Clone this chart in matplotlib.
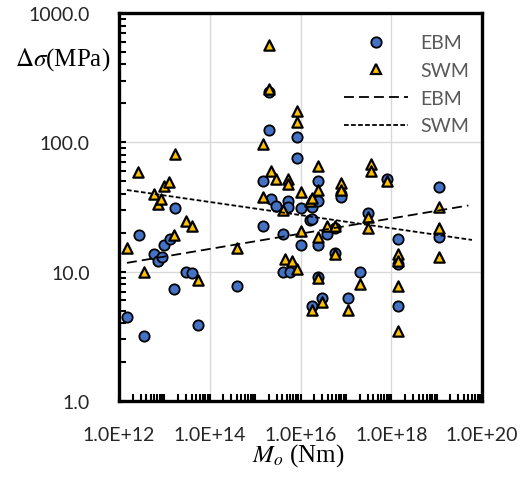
import numpy as np
import matplotlib
matplotlib.use("Agg")
import matplotlib.pyplot as plt
from matplotlib.ticker import FixedLocator, LogLocator, FuncFormatter, NullFormatter
from matplotlib.lines import Line2D

plt.rcParams['font.family'] = ['Lato', 'DejaVu Sans']
plt.rcParams['mathtext.fontset'] = 'stix'

# EBM data (Mo in Nm, stress drop in MPa)
ebm_mo = [1.5e12, 3.6e12, 2.8e12, 5.9e12, 7.2e12, 8.9e12, 9.8e12, 1.33e13, 1.63e13, 1.7e13,
          3.0e13, 4.1e13, 5.5e13, 4.0e14, 1.5e15, 1.5e15, 2.0e15, 2.0e15, 2.2e15, 2.9e15,
          4.2e15, 4.2e15, 5.9e15, 5.4e15, 5.4e15, 8.4e15, 8.4e15, 1.0e16, 1.0e16, 1.6e16,
          1.8e16, 1.8e16, 2.4e16, 2.4e16, 2.4e16, 2.4e16, 1.8e16, 3.0e16, 3.8e16, 5.9e16,
          5.9e16, 7.8e16, 7.8e16, 1.1e17, 2.0e17, 3.0e17, 8.1e17, 1.4e18, 1.4e18, 1.4e18,
          1.1e19, 1.1e19]
ebm_ds = [4.5, 3.2, 19.2, 13.6, 12.0, 13.0, 16.2, 18.0, 7.3, 30.8,
          9.9, 9.8, 3.9, 7.8, 50, 22.7, 245, 125, 36.5, 32,
          19.7, 9.9, 10.0, 35, 31.9, 110, 75, 16.2, 30.8, 25.3,
          25.7, 31.9, 35, 50, 16.2, 9.1, 5.4, 6.3, 19.7, 21.6,
          13.9, 40, 38, 6.3, 9.9, 28.4, 52, 18.0, 11.5, 5.4,
          45, 18.7]

# SWM data
swm_mo = [1.5e12, 2.6e12, 3.6e12, 5.9e12, 7.2e12, 8.4e12, 9.8e12, 1.26e13, 1.63e13, 1.7e13,
          3.0e13, 4.1e13, 5.5e13, 4.0e14, 1.5e15, 1.5e15, 2.0e15, 2.0e15, 2.2e15, 2.9e15,
          4.2e15, 4.5e15, 6.5e15, 8.4e15, 5.4e15, 5.4e15, 8.4e15, 8.4e15, 1.0e16, 1.0e16,
          1.6e16, 1.8e16, 2.4e16, 2.4e16, 2.4e16, 2.4e16, 1.8e16, 3.0e16, 3.8e16, 5.9e16,
          5.9e16, 7.8e16, 7.8e16, 1.1e17, 2.0e17, 3.0e17, 3.0e17, 3.6e17, 3.6e17, 8.1e17,
          1.4e18, 1.4e18, 1.4e18, 1.4e18, 1.1e19, 1.1e19, 1.1e19]
swm_ds = [15.2, 59, 9.9, 40, 33.4, 36.5, 46, 49, 19.2, 81,
          24.6, 22.7, 8.6, 15.2, 97, 38, 566, 258, 60, 52,
          30, 12.5, 12.0, 10.5, 52, 47.6, 175, 144, 20.6, 41,
          35, 37, 43, 66, 18.7, 8.9, 5.1, 5.8, 22.7, 22.7,
          13.6, 48.5, 43, 5.1, 8.0, 26.5, 21.6, 68, 60, 50,
          13.6, 12.0, 7.8, 3.5, 31.9, 21.6, 13.0]

# trend lines (power law)
ebm_fit_mo = [1.5e12, 5e19]
ebm_fit_ds = [11.7, 32.5]
swm_fit_mo = [1.5e12, 6e19]
swm_fit_ds = [42.8, 17.6]

fig = plt.figure(figsize=(5.3, 4.81), dpi=100)
ax = fig.add_axes([0.2245, 0.1642, 0.685, 0.8067])

ax.scatter(ebm_mo, ebm_ds, s=55, marker='o', facecolor='#4472C4', edgecolor='black', linewidth=1.3, zorder=3)
ax.scatter(swm_mo, swm_ds, s=55, marker='^', facecolor='#FFC000', edgecolor='black', linewidth=1.6, zorder=4)
ax.plot(ebm_fit_mo, ebm_fit_ds, color='black', lw=1.3, dashes=(5.5, 2.8), zorder=5)
ax.plot(swm_fit_mo, swm_fit_ds, color='black', lw=1.3, dashes=(2.6, 1.3), zorder=5)

ax.set_xscale('log')
ax.set_yscale('log')
ax.set_xlim(1e12, 1e20)
ax.set_ylim(1, 1000)

ax.xaxis.set_major_locator(FixedLocator([1e12, 1e14, 1e16, 1e18, 1e20]))
ax.xaxis.set_minor_locator(LogLocator(base=10, subs=np.arange(1, 10), numticks=50))
ax.xaxis.set_major_formatter(FuncFormatter(lambda v, p: f"{v:.1E}"))
ax.xaxis.set_minor_formatter(NullFormatter())
ax.yaxis.set_major_locator(FixedLocator([1, 10, 100, 1000]))
ax.yaxis.set_minor_locator(LogLocator(base=10, subs=np.arange(2, 10), numticks=50))
ax.yaxis.set_major_formatter(FuncFormatter(lambda v, p: f"{v:.1f}"))
ax.yaxis.set_minor_formatter(NullFormatter())

ax.tick_params(which='both', direction='in', length=5, width=1.5, color='black')
ax.tick_params(axis='x', which='major', pad=18, labelsize=14, labelcolor='#262626')
ax.tick_params(axis='y', which='major', pad=21, labelsize=14, labelcolor='#262626')
ax.grid(which='major', color='#d9d9d9', lw=1)
ax.set_axisbelow(True)
for s in ax.spines.values():
    s.set_linewidth(2.4)

fig.text(0.119, 1 - 60 / 481, r'$\Delta\sigma$(MPa)', family='Liberation Serif', fontsize=18,
         ha='center', va='center')
fig.text(0.562, 1 - 456 / 481, r'$M_o$ (Nm)', family='Liberation Serif', fontsize=18,
         ha='center', va='center')

handles = [
    Line2D([], [], ls='none', marker='o', markersize=7.5, markerfacecolor='#4472C4',
           markeredgecolor='black', markeredgewidth=1.3),
    Line2D([], [], ls='none', marker='^', markersize=7.5, markerfacecolor='#FFC000',
           markeredgecolor='black', markeredgewidth=1.6),
    Line2D([], [], color='black', lw=1.3, dashes=(5.5, 2.8)),
    Line2D([], [], color='black', lw=1.3, dashes=(2.6, 1.3)),
]
leg = ax.legend(handles, ['EBM', 'SWM', 'EBM', 'SWM'], loc='upper right', frameon=False,
                fontsize=14, handlelength=3.3, handletextpad=0.6, labelspacing=0.55,
                bbox_to_anchor=(0.985, 0.965), borderaxespad=0)
for t in leg.get_texts():
    t.set_color('#595959')

fig.savefig('out.png', dpi=100)
